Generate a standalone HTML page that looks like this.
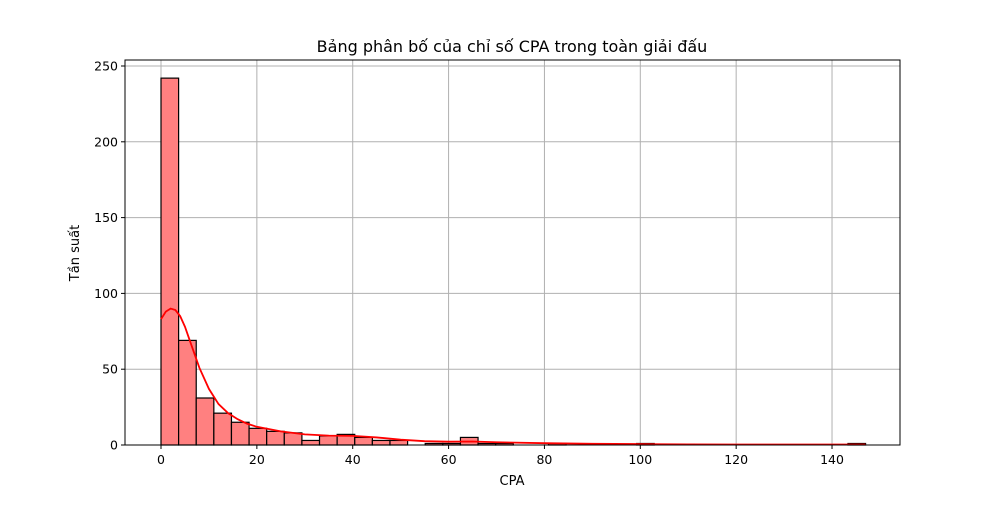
<!DOCTYPE html>
<html><head><meta charset="utf-8"><style>
body{margin:0;background:#fff;font-family:"Liberation Sans","DejaVu Sans",sans-serif}
</style></head><body>
<svg id="c" width="1000" height="500" font-family="DejaVu Sans, Liberation Sans, sans-serif"></svg>
<script>
const binCounts=[242,69,31,21,15,11,9,8,3,6,7,5,3,3,0,1,1,5,1,1,0,0,1,0,0,0,0,1,0,0,0,0,0,0,0,0,0,0,0,1];
const binStart=0, binWidth=3.675;
const kdeX=[0,1,2,3,4,5,6,7,8,10,12,14,16,18,20,25,30,35,40,45,50,55,60,65,70,80,90,100,110,120,130,140,147];
const kdeY=[83,88,90,89,85,78,69,60,51,37,27,21,17,14,12,9,7,6.2,6,5,3.5,2.5,2.2,2.3,1.8,1.2,0.8,0.6,0.4,0.3,0.3,0.3,0.3];
const xTicks=[0,20,40,60,80,100,120,140];
const yTicks=[0,50,100,150,200,250];
const L=125,R=900,T=60,B=445;
const sx=v=>161+v*4.793, sy=v=>445-v*1.516;
const svg=document.getElementById('c');const NS='http://www.w3.org/2000/svg';
function mk(t,a,p){const e=document.createElementNS(NS,t);for(const k in a)e.setAttribute(k,a[k]);(p||svg).appendChild(e);return e;}
let e;
e=mk('text',{x:512,y:52,'text-anchor':'middle','font-size':16});e.textContent='Bảng phân bố của chỉ số CPA trong toàn giải đấu';


xTicks.forEach(v=>{const x=sx(v);
 e=mk('line',{x1:x,x2:x,y1:T,y2:B,stroke:'#b0b0b0','stroke-width':1});
 
 
 mk('line',{x1:x,x2:x,y1:B,y2:B+4,stroke:'#000'});
 e=mk('text',{x:x,y:B+19,'text-anchor':'middle','font-size':12.5});e.textContent=v;
 
 });
yTicks.forEach(v=>{const y=sy(v);
 e=mk('line',{x1:L,x2:R,y1:y,y2:y,stroke:'#b0b0b0','stroke-width':1});
 
 
 mk('line',{x1:L-4,x2:L,y1:y,y2:y,stroke:'#000'});
 e=mk('text',{x:L-7,y:y+4.5,'text-anchor':'end','font-size':12.5});e.textContent=v;
 
 });
binCounts.forEach((c,i)=>{if(!c)return;const x0=sx(binStart+i*binWidth),x1=sx(binStart+(i+1)*binWidth);
 e=mk('rect',{x:x0,y:sy(c),width:x1-x0,height:sy(0)-sy(c),fill:'#ff8080',stroke:'#000','stroke-width':1.2});
 
 });
e=mk('polyline',{points:kdeX.map((x,i)=>sx(x)+','+sy(kdeY[i])).join(' '),fill:'none',stroke:'#f00','stroke-width':1.8});


e=mk('rect',{x:L,y:T,width:R-L,height:B-T,fill:'none',stroke:'#000','stroke-width':1});


e=mk('text',{x:512,y:485,'text-anchor':'middle','font-size':13});e.textContent='CPA';


e=mk('text',{x:79,y:253,'text-anchor':'middle','font-size':13,transform:'rotate(-90 79 253)'});e.textContent='Tần suất';


</script>
</body></html>
